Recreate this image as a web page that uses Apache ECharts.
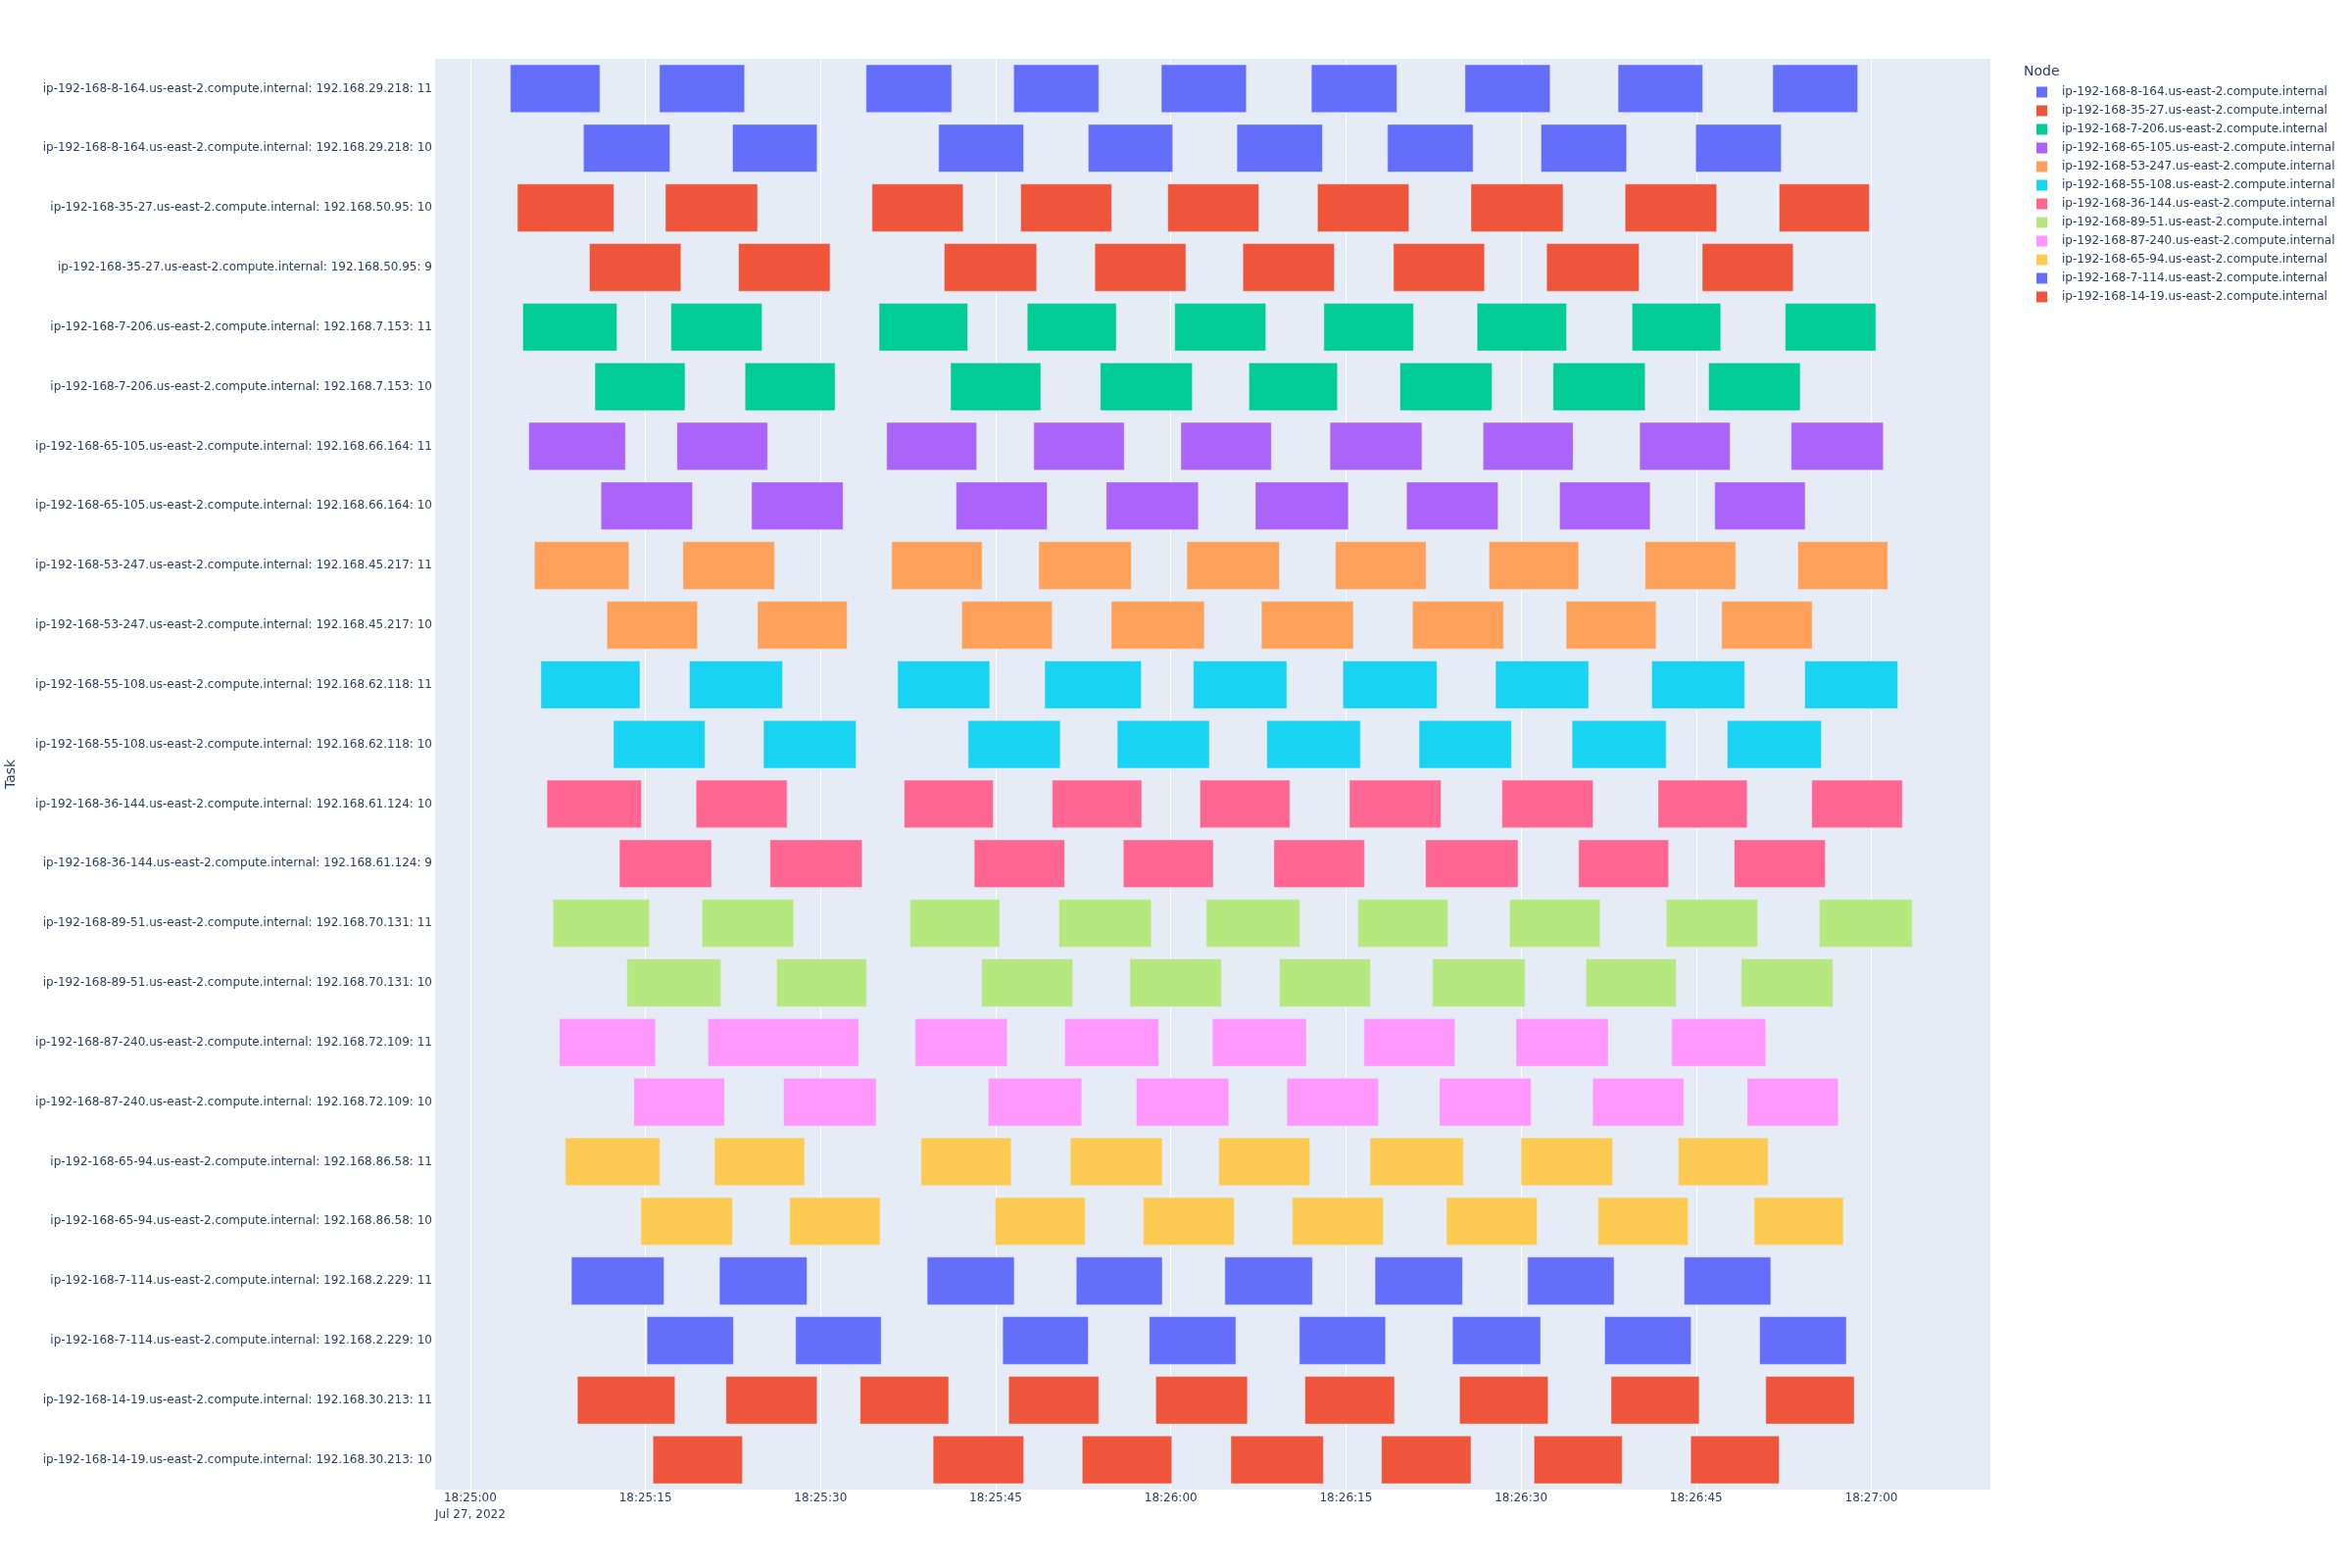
<!DOCTYPE html>
<html>
<head>
<meta charset="utf-8">
<script src="https://cdn.jsdelivr.net/npm/echarts@6/dist/echarts.min.js"></script>
<style>html,body{margin:0;padding:0;background:#fff}#chart{width:2400px;height:1600px}</style>
</head>
<body>
<div id="chart"></div>
<script>
// ---- data (seconds after 18:25:00 UTC, Jul 27 2022) ----
const dateLabel = 'Jul 27, 2022';
const nodes = [
  'ip-192-168-8-164.us-east-2.compute.internal',
  'ip-192-168-35-27.us-east-2.compute.internal',
  'ip-192-168-7-206.us-east-2.compute.internal',
  'ip-192-168-65-105.us-east-2.compute.internal',
  'ip-192-168-53-247.us-east-2.compute.internal',
  'ip-192-168-55-108.us-east-2.compute.internal',
  'ip-192-168-36-144.us-east-2.compute.internal',
  'ip-192-168-89-51.us-east-2.compute.internal',
  'ip-192-168-87-240.us-east-2.compute.internal',
  'ip-192-168-65-94.us-east-2.compute.internal',
  'ip-192-168-7-114.us-east-2.compute.internal',
  'ip-192-168-14-19.us-east-2.compute.internal'
];
const tasks = [
  'ip-192-168-8-164.us-east-2.compute.internal: 192.168.29.218: 11',
  'ip-192-168-8-164.us-east-2.compute.internal: 192.168.29.218: 10',
  'ip-192-168-35-27.us-east-2.compute.internal: 192.168.50.95: 10',
  'ip-192-168-35-27.us-east-2.compute.internal: 192.168.50.95: 9',
  'ip-192-168-7-206.us-east-2.compute.internal: 192.168.7.153: 11',
  'ip-192-168-7-206.us-east-2.compute.internal: 192.168.7.153: 10',
  'ip-192-168-65-105.us-east-2.compute.internal: 192.168.66.164: 11',
  'ip-192-168-65-105.us-east-2.compute.internal: 192.168.66.164: 10',
  'ip-192-168-53-247.us-east-2.compute.internal: 192.168.45.217: 11',
  'ip-192-168-53-247.us-east-2.compute.internal: 192.168.45.217: 10',
  'ip-192-168-55-108.us-east-2.compute.internal: 192.168.62.118: 11',
  'ip-192-168-55-108.us-east-2.compute.internal: 192.168.62.118: 10',
  'ip-192-168-36-144.us-east-2.compute.internal: 192.168.61.124: 10',
  'ip-192-168-36-144.us-east-2.compute.internal: 192.168.61.124: 9',
  'ip-192-168-89-51.us-east-2.compute.internal: 192.168.70.131: 11',
  'ip-192-168-89-51.us-east-2.compute.internal: 192.168.70.131: 10',
  'ip-192-168-87-240.us-east-2.compute.internal: 192.168.72.109: 11',
  'ip-192-168-87-240.us-east-2.compute.internal: 192.168.72.109: 10',
  'ip-192-168-65-94.us-east-2.compute.internal: 192.168.86.58: 11',
  'ip-192-168-65-94.us-east-2.compute.internal: 192.168.86.58: 10',
  'ip-192-168-7-114.us-east-2.compute.internal: 192.168.2.229: 11',
  'ip-192-168-7-114.us-east-2.compute.internal: 192.168.2.229: 10',
  'ip-192-168-14-19.us-east-2.compute.internal: 192.168.30.213: 11',
  'ip-192-168-14-19.us-east-2.compute.internal: 192.168.30.213: 10'
];
const taskNode = [0,0,1,1,2,2,3,3,4,4,5,5,6,6,7,7,8,8,9,9,10,10,11,11];

const task01 = [[3.43,11.10],[16.20,23.49],[33.90,41.23],[46.54,53.83],[59.19,66.47],[72.04,79.37],[85.20,92.49],[98.31,105.56],[111.56,118.84]];
const task02 = [[9.69,17.10],[22.46,29.70],[40.11,47.40],[52.93,60.17],[65.66,72.99],[78.56,85.89],[91.71,99.04],[104.96,112.29]];
const task03 = [[4.03,12.30],[16.71,24.60],[34.41,42.21],[47.14,54.94],[59.74,67.54],[72.56,80.40],[85.71,93.60],[98.91,106.76],[112.11,119.83]];
const task04 = [[10.20,18.04],[22.97,30.81],[40.59,48.51],[53.49,61.29],[66.17,74.01],[79.07,86.87],[92.19,100.11],[105.52,113.31]];
const task05 = [[4.50,12.56],[17.19,24.99],[35.01,42.60],[47.70,55.33],[60.34,68.14],[73.11,80.79],[86.23,93.90],[99.51,107.10],[112.63,120.39]];
const task06 = [[10.67,18.39],[23.53,31.24],[41.14,48.86],[53.96,61.84],[66.69,74.27],[79.63,87.51],[92.74,100.63],[106.07,113.91]];
const task07 = [[5.01,13.29],[17.70,25.46],[35.66,43.37],[48.26,56.01],[60.86,68.61],[73.63,81.51],[86.74,94.46],[100.16,107.91],[113.14,121.03]];
const task08 = [[11.19,19.03],[24.09,31.93],[41.61,49.41],[54.47,62.36],[67.24,75.21],[80.19,88.03],[93.30,101.06],[106.59,114.34]];
const task09 = [[5.49,13.59],[18.21,26.06],[36.09,43.84],[48.69,56.61],[61.37,69.30],[74.10,81.86],[87.26,94.93],[100.63,108.39],[113.70,121.41]];
const task10 = [[11.70,19.46],[24.60,32.27],[42.09,49.84],[54.90,62.87],[67.76,75.64],[80.70,88.50],[93.86,101.57],[107.19,114.94]];
const task11 = [[6.04,14.53],[18.77,26.74],[36.60,44.49],[49.20,57.47],[61.93,69.94],[74.74,82.80],[87.81,95.79],[101.19,109.16],[114.30,122.27]];
const task12 = [[12.26,20.10],[25.11,33.04],[42.64,50.53],[55.41,63.30],[68.23,76.24],[81.26,89.19],[94.37,102.43],[107.66,115.71]];
const task13 = [[6.56,14.66],[19.33,27.13],[37.16,44.79],[49.84,57.51],[62.49,70.20],[75.30,83.14],[88.37,96.17],[101.74,109.37],[114.90,122.66]];
const task14 = [[12.77,20.66],[25.67,33.56],[43.16,50.91],[55.93,63.64],[68.83,76.59],[81.82,89.74],[94.93,102.64],[108.26,116.06]];
const task15 = [[7.07,15.34],[19.84,27.69],[37.67,45.34],[50.40,58.33],[63.04,71.06],[76.03,83.74],[89.01,96.77],[102.43,110.27],[115.54,123.51]];
const task16 = [[13.41,21.47],[26.23,33.94],[43.80,51.60],[56.49,64.33],[69.30,77.10],[82.41,90.34],[95.57,103.29],[108.86,116.70]];
const task17 = [[7.63,15.86],[20.36,33.26],[38.10,45.99],[50.91,58.97],[63.56,71.61],[76.54,84.34],[89.57,97.46],[102.90,110.96]];
const task18 = [[14.01,21.77],[26.83,34.76],[44.36,52.37],[57.04,64.97],[69.94,77.79],[83.01,90.86],[96.13,103.93],[109.37,117.17]];
const task19 = [[8.14,16.24],[20.91,28.63],[38.61,46.33],[51.39,59.27],[64.11,71.91],[77.06,85.07],[90.00,97.84],[103.46,111.17]];
const task20 = [[14.61,22.46],[27.34,35.10],[44.96,52.67],[57.64,65.44],[70.41,78.21],[83.61,91.37],[96.60,104.31],[109.97,117.60]];
const task21 = [[8.66,16.59],[21.34,28.84],[39.13,46.59],[51.90,59.27],[64.63,72.13],[77.49,84.99],[90.56,97.97],[103.97,111.39]];
const task22 = [[15.13,22.54],[27.86,35.19],[45.60,52.93],[58.16,65.57],[71.01,78.39],[84.13,91.67],[97.16,104.57],[110.44,117.86]];
const task23 = [[9.17,17.53],[21.90,29.70],[33.39,40.97],[46.11,53.83],[58.71,66.56],[71.49,79.16],[84.73,92.32],[97.71,105.26],[110.96,118.54]];
const task24 = [[15.64,23.31],[39.64,47.40],[52.41,60.09],[65.14,73.07],[78.04,85.71],[91.11,98.66],[104.53,112.11]];

const taskBars = [task01,task02,task03,task04,task05,task06,task07,task08,task09,task10,task11,task12,
                  task13,task14,task15,task16,task17,task18,task19,task20,task21,task22,task23,task24];

const palette = ['#636efa','#EF553B','#00cc96','#ab63fa','#FFA15A','#19d3f3','#FF6692','#B6E880','#FF97FF','#FECB52'];

// ---- build ----
const BASE = Date.UTC(2022, 6, 27, 18, 25, 0);
const X_MIN = BASE - 3100;
const X_MAX = BASE + 130200;
const FONT = 'DejaVu Sans';
const TXT = '#2a3f5f';

function pad(n){ return (n < 10 ? '0' : '') + n; }

function renderItem(params, api) {
  const row = api.value(0);
  const s = api.coord([api.value(1), row]);
  const e = api.coord([api.value(2), row]);
  const h = api.size([0, 1])[1] * 0.8;
  return {
    type: 'rect',
    shape: { x: s[0], y: s[1] - h / 2, width: e[0] - s[0], height: h },
    style: { fill: api.visual('color'), stroke: '#E5ECF6', lineWidth: 0.5 }
  };
}

const series = nodes.map(function (name, ni) {
  const data = [];
  taskNode.forEach(function (n, ti) {
    if (n !== ni) return;
    taskBars[ti].forEach(function (b) {
      data.push([ti, BASE + b[0] * 1000, BASE + b[1] * 1000]);
    });
  });
  return {
    name: name,
    type: 'custom',
    renderItem: renderItem,
    itemStyle: { color: palette[ni % palette.length] },
    encode: { x: [1, 2], y: 0 },
    data: data,
    animation: false
  };
});

const chart = echarts.init(document.getElementById('chart'));
chart.setOption({
  useUTC: true,
  animation: false,
  backgroundColor: '#ffffff',
  textStyle: { fontFamily: FONT },
  title: {
    text: 'Node', left: 2065, top: 66, padding: 0,
    textStyle: { fontFamily: FONT, fontSize: 14, fontWeight: 'normal', color: TXT }
  },
  legend: {
    orient: 'vertical', left: 2078, top: 88, padding: 0,
    icon: 'rect', itemWidth: 11, itemHeight: 11, itemGap: 7,
    data: nodes,
    textStyle: { fontFamily: FONT, fontSize: 12, color: TXT, padding: [0, 0, 0, 10] }
  },
  grid: { left: 443, right: 369, top: 60, bottom: 80, containLabel: false,
          outerBoundsMode: 'none',
          show: true, backgroundColor: '#E5ECF6', borderWidth: 0 },
  xAxis: {
    type: 'time', min: X_MIN, max: X_MAX,
    minInterval: 17500, maxInterval: 17500,
    axisLine: { show: false }, axisTick: { show: false },
    splitLine: { show: true, lineStyle: { color: '#ffffff', width: 1 } },
    axisLabel: {
      fontFamily: FONT, fontSize: 12, color: TXT, margin: 0, lineHeight: 17,
      hideOverlap: false,
      formatter: function (v) {
        const d = new Date(v);
        if (d.getUTCMilliseconds() !== 0 || d.getUTCSeconds() % 15 !== 0) return '';
        const lab = pad(d.getUTCHours()) + ':' + pad(d.getUTCMinutes()) + ':' + pad(d.getUTCSeconds());
        return v === BASE ? lab + '\n' + dateLabel : lab;
      }
    }
  },
  yAxis: {
    type: 'category', data: tasks, inverse: true,
    name: 'Task', nameLocation: 'middle', nameRotate: 90, nameGap: 425,
    nameTextStyle: { fontFamily: FONT, fontSize: 14, color: TXT },
    axisLine: { show: false }, axisTick: { show: false }, splitLine: { show: false },
    axisLabel: { fontFamily: FONT, fontSize: 12, color: TXT, margin: 2, interval: 0 }
  },
  series: series
});
</script>
</body>
</html>
